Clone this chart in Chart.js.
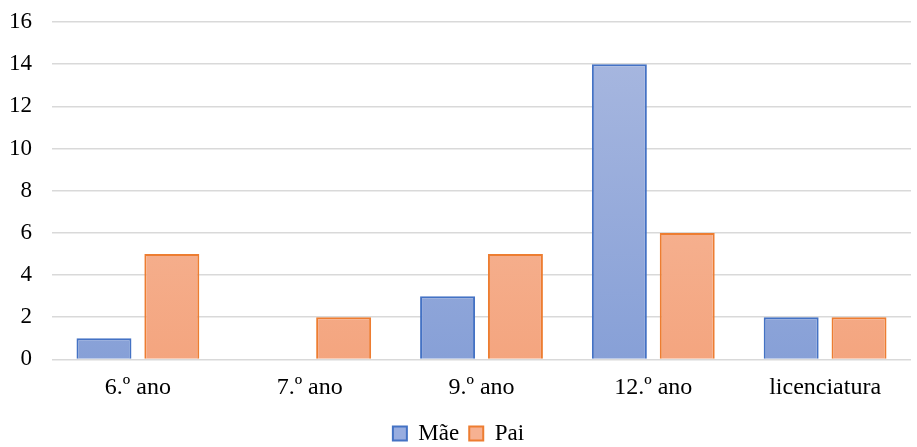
<!DOCTYPE html>
<html>
<head>
<meta charset="utf-8">
<script src="https://cdn.jsdelivr.net/npm/chart.js@4/dist/chart.umd.min.js"></script>
<style>
  html, body { margin: 0; padding: 0; background: #fff; }
  #wrap { width: 917px; height: 447px; }
</style>
</head>
<body>
<div id="wrap"><canvas id="c" width="917" height="447"></canvas></div>
<script>
const categories = ['6.º ano', '7.º ano', '9.º ano', '12.º ano', 'licenciatura'];
const maeValues = [1, 0, 3, 14, 2];
const paiValues = [5, 2, 5, 6, 2];
const yTicks = [0, 2, 4, 6, 8, 10, 12, 14, 16];

function vertGradient(top, bottom) {
  return function (ctx) {
    const chart = ctx.chart;
    const area = chart.chartArea;
    if (!area) return bottom;
    const el = ctx.element;
    let y0 = area.top, y1 = area.bottom;
    if (el && el.base !== undefined && el.y !== undefined) {
      y0 = Math.min(el.y, el.base);
      y1 = Math.max(el.y, el.base);
      if (y1 - y0 < 1) y1 = y0 + 1;
    }
    const g = chart.ctx.createLinearGradient(0, y0, 0, y1);
    g.addColorStop(0, top);
    g.addColorStop(1, bottom);
    return g;
  };
}

const family = "'Liberation Serif', 'DejaVu Serif', serif";
const tickFont = { family: family, size: 23 };
const labelFont = { family: family, size: 24, lineHeight: 0.4 };
Chart.defaults.font.family = family;
Chart.defaults.font.size = 23;
Chart.defaults.color = '#000';

new Chart(document.getElementById('c'), {
  type: 'bar',
  data: {
    labels: categories,
    datasets: [
      {
        label: 'Mãe',
        data: maeValues,
        backgroundColor: vertGradient('#aab9e0', '#87a0d7'),
        borderColor: '#4472c4',
        borderWidth: 2,
        borderSkipped: 'bottom'
      },
      {
        label: 'Pai',
        data: paiValues,
        backgroundColor: vertGradient('#f7c0a6', '#f4a57f'),
        borderColor: '#ed7d31',
        borderWidth: 2,
        borderSkipped: 'bottom'
      }
    ]
  },
  options: {
    responsive: false,
    animation: false,
    devicePixelRatio: 1,
    categoryPercentage: 0.79,
    barPercentage: 0.81,
    layout: { padding: { top: 22, right: 6, left: 6, bottom: -8 } },
    plugins: {
      tooltip: { enabled: false },
      legend: {
        position: 'bottom',
        labels: {
          font: tickFont,
          color: '#000',
          boxWidth: 14,
          boxHeight: 14,
          padding: 10,
          generateLabels: function (chart) {
            const fills = ['#98ade0', '#f6b192'];
            return chart.data.datasets.map((ds, i) => ({
              text: ds.label,
              fillStyle: fills[i],
              strokeStyle: ds.borderColor,
              lineWidth: 2,
              hidden: false,
              datasetIndex: i,
              fontColor: '#000'
            }));
          }
        }
      }
    },
    scales: {
      x: {
        afterFit: function (axis) { axis.height -= 5; },
        grid: { display: false, drawTicks: false },
        border: { display: false },
        ticks: { font: labelFont, color: '#000', padding: 24 }
      },
      y: {
        min: 0,
        max: 16,
        afterBuildTicks: function (axis) {
          axis.ticks = yTicks.map(v => ({ value: v }));
        },
        afterFit: function (axis) {
          axis.width = 46;
          axis.paddingTop = 0;
          axis.paddingBottom = 0;
        },
        grid: { color: '#d9d9d9', lineWidth: 1.5, drawTicks: false },
        border: { display: false },
        ticks: { font: tickFont, color: '#000', padding: 20 }
      }
    }
  }
});
</script>
</body>
</html>
